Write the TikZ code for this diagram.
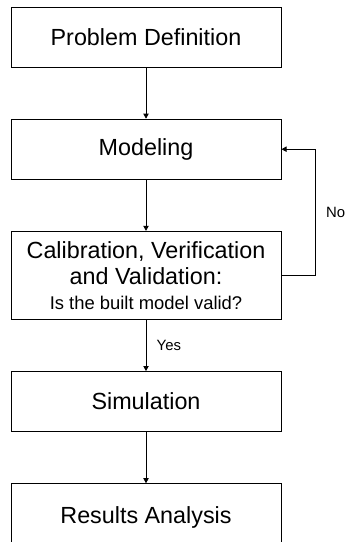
\documentclass[tikz,border=0pt]{standalone}
\usepackage{fontspec}
\setmainfont{Liberation Sans}
\usetikzlibrary{positioning,arrows.meta}
\newcommand{\stepfont}{\fontsize{16.6}{18.8}\selectfont}
\newcommand{\askfont}{\fontsize{13.1}{15}\selectfont}
\newcommand{\tagfont}{\fontsize{10.6}{12}\selectfont}

\begin{document}
\begin{tikzpicture}[
  node distance=1.28cm,
  stage/.style={draw, line width=0.7pt, minimum width=6.75cm, minimum height=1.5cm,
                align=center, font=\stepfont, inner sep=2pt},
  tag/.style={font=\tagfont},
  arr/.style={-{Triangle[length=3.6pt, width=3.8pt]}, line width=0.55pt},
]
\useasboundingbox (0,0) rectangle (8.625,-13.55);
% Stages of the study
\node[stage] (problem) at (3.65,-0.925) {Problem Definition};
\node[stage, below=of problem] (model) {Modeling};
\node[stage, below=of model, minimum height=2.2cm] (valid) {
  Calibration, Verification\\
  and Validation:\\[-1pt]
  {\askfont Is the built model valid?}
};
\node[stage, below=of valid] (sim) {Simulation};
\node[stage, below=of sim, minimum height=1.7cm, anchor=north] (results) {Results Analysis};
% Flow
\draw[arr] (problem) -- (model);
\draw[arr] (model) -- (valid);
\draw[arr] (valid) -- node[tag, right=4pt] {Yes} (sim);
\draw[arr] (sim) -- (results);
% Loop back when the model is not valid
\draw[arr] (valid.east) -- ++(0.85,0) |- node[tag, right=4pt, pos=0.25] {No} (model.east);
\end{tikzpicture}
\end{document}
